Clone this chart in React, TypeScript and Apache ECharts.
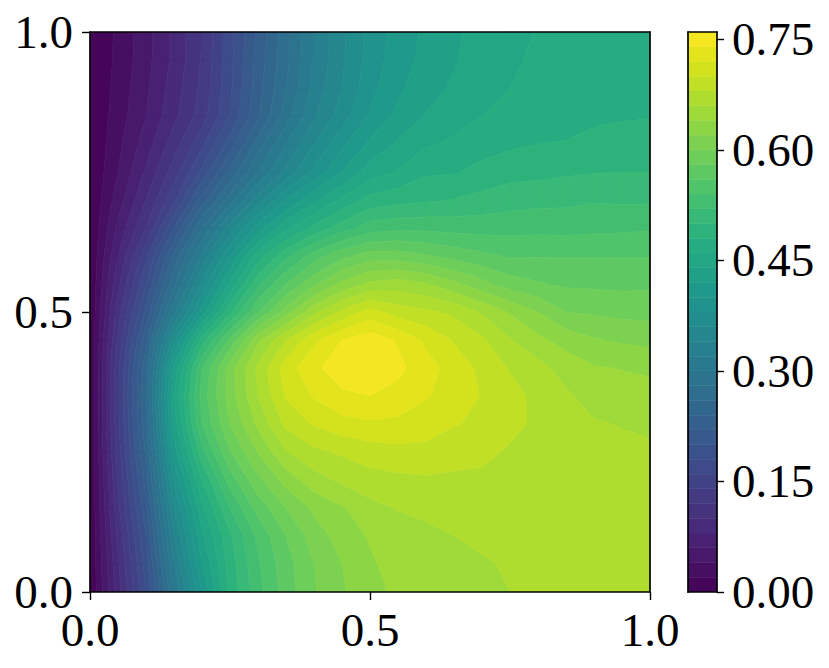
import React, { useEffect, useRef } from "react";
import * as echarts from "echarts";

// Sample positions of the field.
const xNodes = [0, 0.05, 0.1, 0.15, 0.2, 0.25, 0.3, 0.35, 0.4, 0.45, 0.5, 0.55, 0.6, 0.65, 0.7, 0.75, 0.8, 0.85, 0.9, 0.95, 1];
const yNodes = [0, 0.05, 0.1, 0.15, 0.2, 0.25, 0.3, 0.35, 0.4, 0.45, 0.5, 0.55, 0.6, 0.65, 0.7, 0.75, 0.8, 0.85, 0.9, 0.95, 1];

// One list per x position, from y = 0 to y = 1.
const col000 = [0, 0, 0, 0, 0, 0, 0, 0, 0, 0, 0, 0, 0, 0, 0, 0, 0, 0, 0, 0, 0];
const col005 = [0.09, 0.097, 0.105, 0.115, 0.122, 0.13, 0.135, 0.137, 0.135, 0.125, 0.11, 0.095, 0.08, 0.065, 0.05, 0.04, 0.035, 0.03, 0.027, 0.025, 0.024];
const col010 = [0.18, 0.19, 0.2, 0.215, 0.23, 0.245, 0.255, 0.26, 0.255, 0.235, 0.205, 0.18, 0.155, 0.12, 0.1, 0.083, 0.07, 0.06, 0.056, 0.053, 0.052];
const col015 = [0.3, 0.32, 0.34, 0.36, 0.385, 0.41, 0.43, 0.44, 0.425, 0.375, 0.315, 0.275, 0.245, 0.2, 0.155, 0.13, 0.11, 0.095, 0.09, 0.085, 0.085];
const col020 = [0.4, 0.42, 0.435, 0.455, 0.48, 0.513, 0.54, 0.548, 0.54, 0.49, 0.41, 0.365, 0.325, 0.28, 0.23, 0.185, 0.155, 0.13, 0.125, 0.122, 0.12];
const col025 = [0.487, 0.49, 0.497, 0.52, 0.55, 0.579, 0.6, 0.61, 0.61, 0.565, 0.495, 0.445, 0.4, 0.35, 0.29, 0.244, 0.21, 0.182, 0.176, 0.174, 0.173];
const col030 = [0.533, 0.537, 0.545, 0.568, 0.595, 0.621, 0.645, 0.66, 0.665, 0.635, 0.56, 0.515, 0.47, 0.41, 0.35, 0.3, 0.27, 0.237, 0.232, 0.228, 0.225];
const col035 = [0.57, 0.572, 0.58, 0.6, 0.628, 0.659, 0.685, 0.702, 0.71, 0.68, 0.61, 0.56, 0.515, 0.455, 0.4, 0.345, 0.32, 0.29, 0.28, 0.275, 0.273];
const col040 = [0.598, 0.6, 0.61, 0.624, 0.652, 0.675, 0.702, 0.722, 0.737, 0.715, 0.655, 0.595, 0.55, 0.485, 0.435, 0.385, 0.36, 0.337, 0.327, 0.322, 0.32];
const col045 = [0.617, 0.62, 0.628, 0.638, 0.664, 0.683, 0.712, 0.737, 0.748, 0.74, 0.685, 0.625, 0.575, 0.51, 0.465, 0.42, 0.395, 0.37, 0.36, 0.357, 0.356];
const col050 = [0.635, 0.637, 0.642, 0.654, 0.672, 0.69, 0.717, 0.74, 0.753, 0.752, 0.708, 0.645, 0.59, 0.53, 0.487, 0.45, 0.424, 0.403, 0.393, 0.388, 0.387];
const col055 = [0.643, 0.648, 0.652, 0.661, 0.675, 0.694, 0.715, 0.733, 0.745, 0.738, 0.69, 0.65, 0.59, 0.535, 0.493, 0.462, 0.443, 0.425, 0.416, 0.412, 0.408];
const col060 = [0.649, 0.652, 0.655, 0.665, 0.677, 0.695, 0.708, 0.722, 0.728, 0.716, 0.684, 0.642, 0.582, 0.535, 0.497, 0.477, 0.457, 0.441, 0.432, 0.425, 0.424];
const col065 = [0.652, 0.653, 0.66, 0.668, 0.676, 0.688, 0.701, 0.71, 0.712, 0.698, 0.676, 0.625, 0.573, 0.533, 0.501, 0.478, 0.463, 0.453, 0.443, 0.438, 0.437];
const col070 = [0.656, 0.658, 0.664, 0.669, 0.675, 0.686, 0.697, 0.699, 0.695, 0.683, 0.658, 0.607, 0.565, 0.532, 0.506, 0.487, 0.47, 0.46, 0.454, 0.45, 0.447];
const col075 = [0.66, 0.662, 0.665, 0.668, 0.672, 0.677, 0.686, 0.688, 0.678, 0.662, 0.638, 0.59, 0.558, 0.533, 0.511, 0.493, 0.476, 0.466, 0.46, 0.457, 0.455];
const col080 = [0.663, 0.666, 0.668, 0.67, 0.673, 0.675, 0.676, 0.674, 0.667, 0.645, 0.62, 0.582, 0.559, 0.534, 0.514, 0.494, 0.48, 0.47, 0.465, 0.463, 0.461];
const col085 = [0.666, 0.668, 0.669, 0.67, 0.67, 0.67, 0.668, 0.663, 0.652, 0.632, 0.6, 0.577, 0.559, 0.533, 0.515, 0.497, 0.481, 0.473, 0.469, 0.467, 0.465];
const col090 = [0.668, 0.67, 0.67, 0.669, 0.668, 0.666, 0.662, 0.652, 0.642, 0.622, 0.597, 0.576, 0.559, 0.535, 0.518, 0.499, 0.486, 0.476, 0.472, 0.47, 0.469];
const col095 = [0.669, 0.67, 0.67, 0.669, 0.668, 0.665, 0.659, 0.65, 0.639, 0.617, 0.594, 0.575, 0.559, 0.536, 0.517, 0.5, 0.488, 0.478, 0.474, 0.472, 0.471];
const col100 = [0.67, 0.67, 0.67, 0.669, 0.667, 0.664, 0.656, 0.648, 0.636, 0.614, 0.593, 0.576, 0.559, 0.538, 0.517, 0.5, 0.49, 0.479, 0.475, 0.473, 0.472];

const columns = [col000, col005, col010, col015, col020, col025, col030, col035, col040, col045, col050, col055, col060, col065, col070, col075, col080, col085, col090, col095, col100];

// Contour levels: 38 bands of 0.02 from 0 to 0.76.
const levels = Array.from({ length: 39 }, (_, i) => +(i * 0.02).toFixed(2));
const colorbarTicks = [0, 0.15, 0.3, 0.45, 0.6, 0.75];
const mainTicks = ["0.0", "0.5", "1.0"];

const viridis = ["#440154", "#481467", "#482576", "#453781", "#404688", "#39558c", "#33638d", "#2d718e", "#287d8e", "#238a8d", "#1f968b", "#20a386", "#29af7f", "#3dbc74", "#56c667", "#74d055", "#94d840", "#b8de29", "#dce319", "#fde725"];

function hex(c: string) {
  return [1, 3, 5].map((i) => parseInt(c.slice(i, i + 2), 16));
}
function colorAt(t: number) {
  const p = Math.max(0, Math.min(1, t)) * (viridis.length - 1);
  const i = Math.min(viridis.length - 2, Math.floor(p));
  const a = hex(viridis[i]);
  const b = hex(viridis[i + 1]);
  const f = p - i;
  return `rgb(${a.map((v, k) => Math.round(v + (b[k] - v) * f)).join(",")})`;
}
const bandColors = levels.slice(0, -1).map((_, k) => colorAt((k + 0.5) / (levels.length - 1)));

type P = [number, number, number];
function clip(poly: P[], level: number, keepAbove: boolean): P[] {
  const out: P[] = [];
  const inside = (p: P) => (keepAbove ? p[2] >= level : p[2] <= level);
  for (let i = 0; i < poly.length; i++) {
    const a = poly[i];
    const b = poly[(i + 1) % poly.length];
    const ia = inside(a);
    const ib = inside(b);
    if (ia) out.push(a);
    if (ia !== ib) {
      const f = (level - a[2]) / (b[2] - a[2]);
      out.push([a[0] + (b[0] - a[0]) * f, a[1] + (b[1] - a[1]) * f, level]);
    }
  }
  return out;
}

const cellData: number[][] = [];
for (let i = 0; i < xNodes.length - 1; i++) {
  for (let j = 0; j < yNodes.length - 1; j++) {
    cellData.push([xNodes[i], xNodes[i + 1], yNodes[j], yNodes[j + 1], columns[i][j], columns[i + 1][j], columns[i + 1][j + 1], columns[i][j + 1]]);
  }
}
const colorbarData = levels.slice(0, -1).map((l, k) => [0, 1, l, levels[k + 1], k]);

const labelFont = { fontFamily: "'Liberation Serif', serif", fontSize: 47, color: "#000" };
const spine = { show: true, onZero: false, lineStyle: { color: "#000", width: 1.7 } };
const tick = { show: true, length: 8, lineStyle: { color: "#000", width: 1.4 } };

export default function App() {
  const ref = useRef<HTMLDivElement>(null);
  useEffect(() => {
    const chart = echarts.init(ref.current!, undefined, { renderer: "svg" });
    const hiddenAxis = { show: true, type: "value" as const, min: 0, max: 1, z: 10, axisLine: spine, axisTick: { show: false }, axisLabel: { show: false }, splitLine: { show: false } };
    chart.setOption({
      animation: false,
      backgroundColor: "#fff",
      grid: [
        { left: 90, top: 32, width: 560, height: 560 },
        { left: 688, top: 32, width: 29, height: 560 },
      ],
      xAxis: [
        {
          type: "value", min: 0, max: 1, interval: 0.5, z: 10, gridIndex: 0, position: "bottom",
          axisLine: spine, axisTick: tick, splitLine: { show: false },
          axisLabel: { ...labelFont, margin: 14, formatter: (v: number) => mainTicks[Math.round(v * 2)] },
        },
        { ...hiddenAxis, gridIndex: 0, position: "top" },
        { ...hiddenAxis, gridIndex: 1, position: "bottom" },
        { ...hiddenAxis, gridIndex: 1, position: "top" },
      ],
      yAxis: [
        {
          type: "value", min: 0, max: 1, interval: 0.5, z: 10, gridIndex: 0, position: "left",
          axisLine: spine, axisTick: tick, splitLine: { show: false },
          axisLabel: { ...labelFont, margin: 17, formatter: (v: number) => mainTicks[Math.round(v * 2)] },
        },
        { ...hiddenAxis, gridIndex: 0, position: "right" },
        { ...hiddenAxis, max: levels[levels.length - 1], gridIndex: 1, position: "left" },
        {
          type: "value", min: 0, max: levels[levels.length - 1], z: 10, gridIndex: 1, position: "right",
          axisLine: spine, splitLine: { show: false },
          axisTick: { ...tick, length: 7, customValues: colorbarTicks },
          axisLabel: { ...labelFont, margin: 15, customValues: colorbarTicks, formatter: (v: number) => v.toFixed(2) },
        },
      ],
      series: [
        {
          type: "custom", xAxisIndex: 0, yAxisIndex: 0, silent: true, clip: true, data: cellData,
          encode: { x: [0, 1], y: [2, 3] },
          renderItem: (_: any, api: any) => {
            const x0 = api.value(0), x1 = api.value(1), y0 = api.value(2), y1 = api.value(3);
            const quad: P[] = [
              [x0, y0, api.value(4)],
              [x1, y0, api.value(5)],
              [x1, y1, api.value(6)],
              [x0, y1, api.value(7)],
            ];
            const children: any[] = [];
            for (let k = 0; k < levels.length - 1; k++) {
              let poly = clip(quad, levels[k], true);
              if (poly.length >= 3) poly = clip(poly, levels[k + 1], false);
              if (poly.length >= 3) {
                children.push({
                  type: "polygon",
                  shape: { points: poly.map((p) => api.coord([p[0], p[1]])) },
                  style: { fill: bandColors[k], stroke: bandColors[k], lineWidth: 0.7 },
                });
              }
            }
            return { type: "group", children };
          },
        },
        {
          type: "custom", xAxisIndex: 2, yAxisIndex: 2, silent: true, clip: true, data: colorbarData,
          encode: { x: [0, 1], y: [2, 3] },
          renderItem: (_: any, api: any) => {
            const a = api.coord([api.value(0), api.value(3)]);
            const b = api.coord([api.value(1), api.value(2)]);
            const c = bandColors[api.value(4)];
            return { type: "rect", shape: { x: a[0], y: a[1], width: b[0] - a[0], height: b[1] - a[1] }, style: { fill: c, stroke: c, lineWidth: 0.5 } };
          },
        },
      ],
    });
    return () => chart.dispose();
  }, []);
  return <div ref={ref} style={{ position: "absolute", left: 0, top: 0, width: 829, height: 668 }} />;
}
